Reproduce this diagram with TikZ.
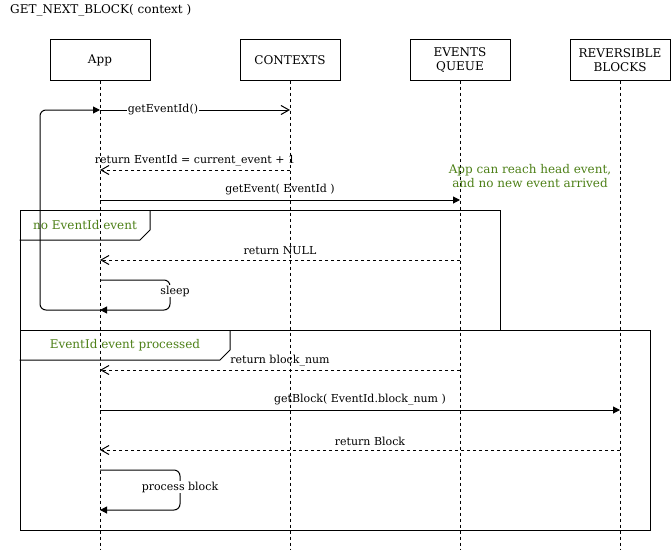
\documentclass[tikz,border=0pt]{standalone}
\usepackage{fontspec}
\setmainfont{DejaVu Serif}
\usetikzlibrary{arrows.meta}
\definecolor{notegreen}{RGB}{77,128,23}
\begin{document}
\begin{tikzpicture}[x=1pt,y=-1pt,
  head/.style={draw, line width=1pt, minimum width=100pt, minimum height=40pt, inner sep=0pt, align=center, font=\fontsize{12}{14}\selectfont},
  life/.style={dash pattern=on 3pt off 3pt, line width=1pt},
  msg/.style={line width=1pt, -{Triangle[length=7pt,width=7pt]}},
  ret/.style={line width=1pt, dash pattern=on 3pt off 3pt, -{Straight Barb[length=8pt,width=9pt]}},
  call/.style={line width=1pt, -{Straight Barb[length=8pt,width=9pt]}},
  lbl/.style={font=\fontsize{11}{13}\selectfont, inner sep=1pt},
  greentxt/.style={text=notegreen, font=\fontsize{12}{14}\selectfont, align=center},
  frame/.style={draw, line width=1pt}]
\useasboundingbox (0,0) rectangle (671,551);
% title
\node[anchor=west, font=\fontsize{12}{14}\selectfont, inner sep=0pt] (title) at (10,10) {GET\_NEXT\_BLOCK( context )};
% heads
\node[head] (app) at (100,60) {App};
\node[head] (ctx) at (290,60) {CONTEXTS};
\node[head] (evq) at (460,60) {EVENTS\\QUEUE};
\node[head] (rev) at (620,60) {REVERSIBLE\\BLOCKS};
% lifelines
\foreach \n in {app,ctx,evq,rev}{
  \coordinate (\n-end) at (\n.south |- 0,550);
  \draw[life] (\n.south) -- (\n-end);
}
% frames
\node[frame, minimum width=480pt, minimum height=120pt, inner sep=0pt] (f1) at (260,270) {};
\draw[frame] (f1.north west |- 0,240) -- (140,240) -- (150,230) -- (150,210);
\node[greentxt] (f1lbl) at (85,225) {no EventId event};
\node[frame, minimum width=630pt, minimum height=200pt, inner sep=0pt] (f2) at (335,430) {};
\draw[frame] (f2.north west |- 0,360) -- (220,360) -- (230,350) -- (230,330);
\node[greentxt] (f2lbl) at (125,345) {EventId event processed};
% note
\node[greentxt, inner sep=0pt] (note) at (530,176) {App can reach head event,\\and no new event arrived};
% coordinates on lifelines
\coordinate (a110) at (app |- 0,110);
\coordinate (c110) at (ctx |- 0,110);
\coordinate (c170) at (ctx |- 0,170);
\coordinate (a170) at (app |- 0,170);
\coordinate (a200) at (app |- 0,200);
\coordinate (e200) at (evq |- 0,200);
\coordinate (e260) at (evq |- 0,260);
\coordinate (a260) at (app |- 0,260);
\coordinate (a280) at (app |- 0,280);
\coordinate (a310) at (app |- 0,310);
\coordinate (e370) at (evq |- 0,370);
\coordinate (a370) at (app |- 0,370);
\coordinate (a410) at (app |- 0,410);
\coordinate (r410) at (rev |- 0,410);
\coordinate (r450) at (rev |- 0,450);
\coordinate (a450) at (app |- 0,450);
\coordinate (a470) at (app |- 0,470);
\coordinate (a510) at (app |- 0,510);
% messages
\draw[call] (a110) -- (c110);
\node[lbl, fill=white] (m1) at (163,110) {getEventId()};
\draw[ret] (c170) -- (a170);
\node[lbl] (m2) at (195,161) {return EventId = current\_event + 1};
\draw[msg] (a200) -- (e200);
\node[lbl] (m3) at (280,190) {getEvent( EventId )};
\draw[ret] (e260) -- (a260);
\node[lbl] (m4) at (280,251) {return NULL};
\draw[msg, rounded corners=6pt] (a280) -- (170,280) -- (170,310) -- (a310);
\node[lbl, fill=white] (m5) at (175,291) {sleep};
\draw[msg, rounded corners=6pt] (a310) -- (40,310) -- (40,110) -- (a110);
\draw[ret] (e370) -- (a370);
\node[lbl] (m6) at (280,361) {return block\_num};
\draw[msg] (a410) -- (r410);
\node[lbl] (m7) at (360,400) {getBlock( EventId.block\_num )};
\draw[ret] (r450) -- (a450);
\node[lbl] (m8) at (370,441) {return Block};
\draw[msg, rounded corners=6pt] (a470) -- (180,470) -- (180,510) -- (a510);
\node[lbl, fill=white] (m9) at (180,487) {process block};
\end{tikzpicture}
\end{document}
